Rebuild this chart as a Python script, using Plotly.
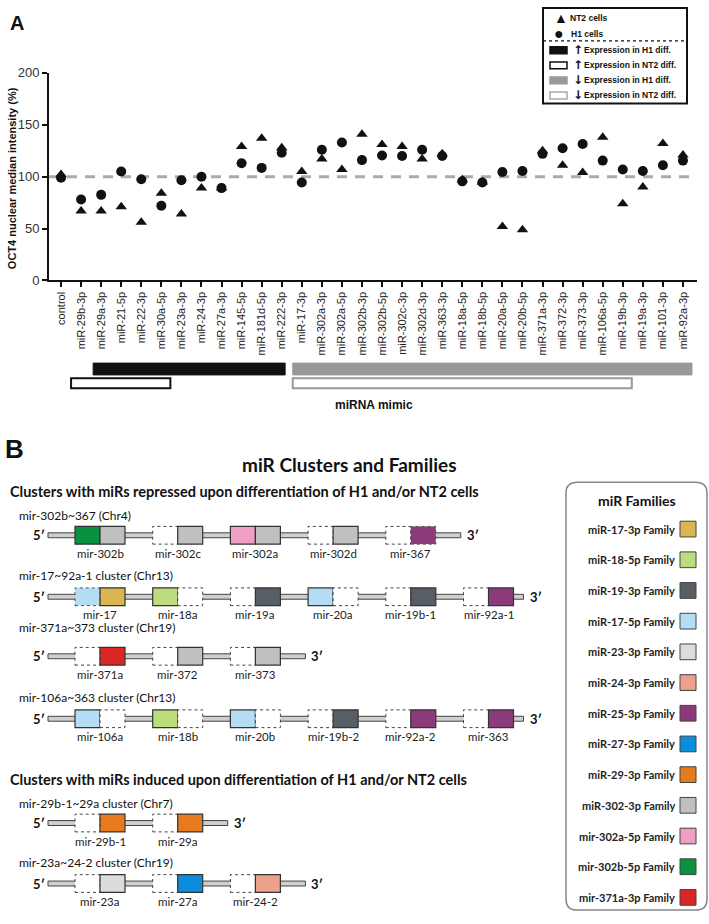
import plotly.graph_objects as go

W, H = 709, 924

categories = ["control", "miR-29b-3p", "miR-29a-3p", "miR-21-5p", "miR-22-3p", "miR-30a-5p",
              "miR-23a-3p", "miR-24-3p", "miR-27a-3p", "miR-145-5p", "miR-181d-5p", "miR-222-3p",
              "miR-17-3p", "miR-302a-3p", "miR-302a-5p", "miR-302b-3p", "miR-302b-5p", "miR-302c-3p",
              "miR-302d-3p", "miR-363-3p", "miR-18a-5p", "miR-18b-5p", "miR-20a-5p", "miR-20b-5p",
              "miR-371a-3p", "miR-372-3p", "miR-373-3p", "miR-106a-5p", "miR-19b-3p", "miR-19a-3p",
              "miR-101-3p", "miR-92a-3p"]
nt2_values = [102, 67, 67, 71, 56, 84, 64, 89, 89, 129, 137, 128, 105, 117, 107, 141, 131, 129,
              117, 122, 97, 95, 52, 49, 125, 111, 104, 138, 74, 90, 132, 121]
h1_values = [99, 78, 82.5, 105, 97.5, 72, 96.5, 100, 89, 113, 108.5, 123, 94.5, 126, 133, 116,
             120.5, 120, 126, 120, 95.5, 94.5, 104.5, 105.5, 122, 127.5, 131.5, 115.5, 107, 105.5,
             111, 115.5]
y_ticks = [0, 50, 100, 150, 200]

# expression-change groups (first category, last category)
h1_up = ("miR-29a-3p", "miR-222-3p")
nt2_up = ("miR-29b-3p", "miR-30a-5p")
h1_down = ("miR-17-3p", "miR-92a-3p")
nt2_down = ("miR-17-3p", "miR-19b-3p")

# clusters: (name, [(mir, 5p colour, 3p colour)]); None = absent arm, "*" = dotted border
C_GRAY = "#c0c0c0"; C_LGRAY = "#dcdcdc"; C_GREEN = "#0a9140"; C_PINK = "#f09ec4"
C_PURP = "#8c3b7a"; C_LBLUE = "#b5dcf5"; C_MUST = "#dbb54f"; C_LGREEN = "#bddc7e"
C_SLATE = "#585e66"; C_RED = "#dc2626"; C_ORANGE = "#e67a1c"; C_BLUE = "#0c8ddb"
C_SALMON = "#eda08c"
N = None
clusters_repressed = [
    ("mir-302b~367 (Chr4)", [("mir-302b", C_GREEN, C_GRAY), ("mir-302c", N, C_GRAY),
                             ("mir-302a", C_PINK, C_GRAY), ("mir-302d", N, C_GRAY),
                             ("mir-367", N, C_PURP + "*")]),
    ("mir-17~92a-1 cluster (Chr13)", [("mir-17", C_LBLUE + "*", C_MUST), ("mir-18a", C_LGREEN, N),
                                      ("mir-19a", N, C_SLATE), ("mir-20a", C_LBLUE, N),
                                      ("mir-19b-1", N, C_SLATE), ("mir-92a-1", N, C_PURP)]),
    ("mir-371a~373 cluster (Chr19)", [("mir-371a", N, C_RED), ("mir-372", N, C_GRAY),
                                      ("mir-373", N, C_GRAY)]),
    ("mir-106a~363 cluster (Chr13)", [("mir-106a", C_LBLUE, N), ("mir-18b", C_LGREEN, N),
                                      ("mir-20b", C_LBLUE, N), ("mir-19b-2", N, C_SLATE),
                                      ("mir-92a-2", N, C_PURP), ("mir-363", N, C_PURP)]),
]
clusters_induced = [
    ("mir-29b-1~29a cluster (Chr7)", [("mir-29b-1", N, C_ORANGE), ("mir-29a", N, C_ORANGE)]),
    ("mir-23a~24-2 cluster (Chr19)", [("mir-23a", N, C_LGRAY), ("mir-27a", N, C_BLUE),
                                      ("mir-24-2", N, C_SALMON)]),
]
families = ["miR-17-3p Family", "miR-18-5p Family", "miR-19-3p Family", "miR-17-5p Family",
            "miR-23-3p Family", "miR-24-3p Family", "miR-25-3p Family", "miR-27-3p Family",
            "miR-29-3p Family", "miR-302-3p Family", "mir-302a-5p Family", "mir-302b-5p Family",
            "mir-371a-3p Family"]
family_colors = [C_MUST, C_LGREEN, C_SLATE, C_LBLUE, C_LGRAY, C_SALMON, C_PURP, C_BLUE,
                 C_ORANGE, C_GRAY, C_PINK, C_GREEN, C_RED]


def fx(x):
    return x / W


def fy(y):
    return 1 - y / H


shapes = []
annotations = []
ARIAL = "Arial, Liberation Sans, sans-serif"
CAL = "Lato, Open Sans, sans-serif"


def rect(x0, y0, x1, y1, fill="rgba(0,0,0,0)", line="#000", lw=1, dash="solid", layer="above"):
    shapes.append(dict(type="rect", xref="paper", yref="paper", x0=fx(x0), x1=fx(x1),
                       y0=fy(y1), y1=fy(y0), fillcolor=fill,
                       line=dict(color=line, width=lw, dash=dash), layer=layer))


def text(x, y, s, size=12, color="#111", family=CAL, bold=False, xanchor="left", angle=0):
    if bold:
        s = "<b>" + s + "</b>"
    annotations.append(dict(x=fx(x), y=fy(y), xref="paper", yref="paper", text=s,
                            showarrow=False, xanchor=xanchor, yanchor="middle", textangle=angle,
                            font=dict(size=size, color=color, family=family)))


fig = go.Figure()
fig.add_trace(go.Scatter(x=categories, y=nt2_values, mode="markers", name="NT2 cells",
                         marker=dict(symbol="triangle-up", size=10, color="#111")))
fig.add_trace(go.Scatter(x=categories, y=h1_values, mode="markers", name="H1 cells",
                         marker=dict(symbol="circle", size=10, color="#111")))

# dashed reference line
shapes.append(dict(type="line", xref="x domain", yref="y", x0=0, x1=1, y0=100, y1=100,
                   line=dict(color="#aaaaaa", width=3, dash="10px,8px"), layer="below"))


# expression bars
def span(group, pad0=0.45, pad1=0.45):
    return categories.index(group[0]) - pad0, categories.index(group[1]) + pad1


def bar(group, y0, y1, fill, line, lw, pad1=0.45, pad0=0.45):
    a, b = span(group, pad0, pad1)
    shapes.append(dict(type="rect", xref="x", yref="paper", x0=a, x1=b, y0=fy(y1), y1=fy(y0),
                       fillcolor=fill, line=dict(color=line, width=lw)))


bar(h1_up, 362, 374, "#111", "#111", 1, pad0=0.4, pad1=0.17)
bar(h1_down, 362, 374, "#999999", "#999999", 1)
bar(nt2_up, 377.5, 387.5, "white", "#111", 2, pad0=0.5)
bar(nt2_down, 377.5, 387.5, "white", "#999999", 2)
text(374, 405, "miRNA mimic", size=12, family=ARIAL, bold=True, xanchor="center")

# panel labels / axis title
text(8, 16, "A", size=20, family=ARIAL, bold=True)
text(3, 449, "B", size=26, family=ARIAL, bold=True)
text(12, 174, "OCT4 nuclear median intensity (%)", size=11, family=ARIAL, bold=True,
     xanchor="center", angle=-90)

# panel A legend
shapes.append(dict(type="rect", xref="paper", yref="paper", x0=fx(543), x1=fx(687),
                   y0=fy(98), y1=fy(1), line=dict(color="#111", width=2), fillcolor="white"))
text(552, 11, "▲", size=14, family=ARIAL)
text(568, 11, "NT2 cells", size=8.5, family=ARIAL, bold=True)
text(552, 27, "●", size=16, family=ARIAL)
text(569, 27, "H1 cells", size=8.5, family=ARIAL, bold=True)
shapes.append(dict(type="line", xref="paper", yref="paper", x0=fx(543), x1=fx(687),
                   y0=fy(34.5), y1=fy(34.5), line=dict(color="#111", width=1.2, dash="dot")))
leg_rows = [("#111", "#111", "Expression in H1 diff."),
            ("white", "#111", "Expression in NT2 diff."),
            ("#999999", "#999999", "Expression in H1 diff."),
            ("white", "#aaaaaa", "Expression in NT2 diff.")]
for i, (fc, lc, lab) in enumerate(leg_rows):
    yy = 44 + i * 15.3
    rect(550, yy - 3.5, 567, yy + 3.5, fill=fc, line=lc, lw=1.5)
    text(571, yy, "↑" if i < 2 else "↓", size=12, family="DejaVu Sans", bold=True)
    text(582, yy, lab, size=8.5, family=ARIAL, bold=True)

# panel B
text(349, 465, "miR Clusters and Families", size=19, bold=True, xanchor="center")
text(8, 493, "Clusters with miRs repressed upon differentiation of H1 and/or NT2 cells",
     size=14.5, bold=True)
text(8, 785, "Clusters with miRs induced upon differentiation of H1 and/or NT2 cells",
     size=14.5, bold=True)

BOX0, STEP, HW, BH = 75, 77.7, 25, 18


def draw_cluster(name, mirs, ytitle, yline):
    text(17, ytitle, name, size=12)
    n = len(mirs)
    end = BOX0 + (n - 1) * STEP + 2 * HW + (10 if n == 6 else 25)
    rect(48, yline - 2.5, end, yline + 2.5, fill="#cfcfcf", line="#444", lw=1)
    text(47, yline, "5′", size=13, bold=True, xanchor="right")
    text(end + 4, yline, "3′", size=13, bold=True)
    for i, (lab, c5, c3) in enumerate(mirs):
        x0 = BOX0 + i * STEP
        for j, c in enumerate((c5, c3)):
            xa = x0 + j * HW
            if c is None:
                rect(xa, yline - BH / 2, xa + HW, yline + BH / 2, fill="white", line="#444",
                     lw=1, dash="dot")
            elif c.endswith("*"):
                rect(xa, yline - BH / 2, xa + HW, yline + BH / 2, fill=c[:-1], line="#555",
                     lw=1, dash="dot")
            else:
                rect(xa, yline - BH / 2, xa + HW, yline + BH / 2, fill=c, line="#333", lw=1.2)
        text(x0 + HW, yline + 18.5, lab, size=11.5, color="#222", xanchor="center")


rep_layout = [(517, 537), (578, 599.5), (631, 660), (702, 723.5)]
for (name, mirs), (yt, yl) in zip(clusters_repressed, rep_layout):
    draw_cluster(name, mirs, yt, yl)
ind_layout = [(810, 829.5), (870, 891)]
for (name, mirs), (yt, yl) in zip(clusters_induced, ind_layout):
    draw_cluster(name, mirs, yt, yl)

# families box
shapes.append(dict(type="path", xref="paper", yref="paper",
                   path=" ".join([
                       f"M {fx(577)} {fy(483)}", f"L {fx(696)} {fy(483)}",
                       f"Q {fx(707)} {fy(483)} {fx(707)} {fy(494)}",
                       f"L {fx(707)} {fy(907)}", f"Q {fx(707)} {fy(918)} {fx(696)} {fy(918)}",
                       f"L {fx(577)} {fy(918)}", f"Q {fx(566)} {fy(918)} {fx(566)} {fy(907)}",
                       f"L {fx(566)} {fy(494)}", f"Q {fx(566)} {fy(483)} {fx(577)} {fy(483)} Z"]),
                   line=dict(color="#888", width=1.5)))
text(637, 502, "miR Families", size=14, bold=True, xanchor="center")
for i, (fam, col) in enumerate(zip(families, family_colors)):
    yy = 530.7 + i * 31.2
    text(677, yy, fam, size=11, bold=True, xanchor="right", color="#222")
    rect(680, yy - 8, 696, yy + 8, fill=col, line="#444", lw=1)

fig.update_layout(
    width=W, height=H, margin=dict(l=0, r=0, t=0, b=0), showlegend=False,
    plot_bgcolor="white", paper_bgcolor="white", hovermode=False,
    shapes=shapes, annotations=annotations,
    xaxis=dict(domain=[fx(49), fx(697)], range=[-0.6, 31.7], type="category",
               showline=True, linecolor="#111", linewidth=2, showgrid=False, zeroline=False,
               ticks="outside", ticklen=5, tickwidth=1.5, tickcolor="#111", tickangle=-90,
               tickmode="array", tickvals=categories, ticktext=categories,
               tickfont=dict(size=11, family=ARIAL, color="#222")),
    yaxis=dict(domain=[fy(278), fy(67)], range=[0, 200], tickvals=y_ticks,
               showline=True, linecolor="#111", linewidth=2, showgrid=False, zeroline=False,
               ticks="outside", ticklen=5, tickwidth=2, tickcolor="#111",
               tickfont=dict(size=13, family=ARIAL, color="#333")),
)
fig.write_html("out.html", config={"displayModeBar": False},
               post_script="document.body.style.margin='0';document.body.style.overflow='hidden';")
